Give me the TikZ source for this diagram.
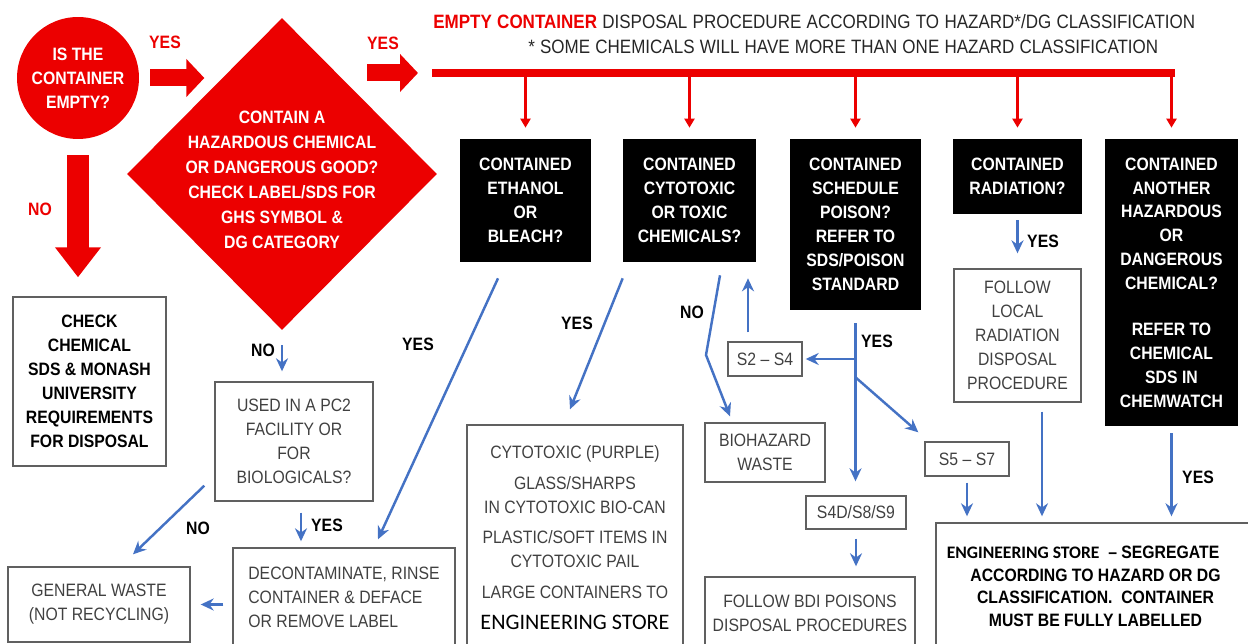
\documentclass[tikz,border=0pt]{standalone}
\usepackage{fontspec}
\setmainfont{Liberation Sans}[FakeStretch=0.88]
\newfontfamily\storefont{Carlito}
\usetikzlibrary{positioning, shapes.geometric, arrows.meta}
\definecolor{hazred}{RGB}{236,0,0}
\definecolor{flowblue}{RGB}{68,114,196}
\definecolor{boxgrey}{RGB}{96,96,96}
\definecolor{textgrey}{RGB}{64,64,64}
\tikzset{black box/.style={rectangle, fill=black, text=white, align=center, inner sep=2pt, font=\bfseries\fontsize{10.2}{13.6}\selectfont},
  grey box/.style={rectangle, draw=boxgrey, line width=0.8pt, text=textgrey, align=center, inner sep=2pt, font=\fontsize{10.2}{13.6}\selectfont},
  bold box/.style={grey box, text=black, font=\bfseries\fontsize{10.2}{13.6}\selectfont},
  red label/.style={text=hazred, font=\bfseries\fontsize{10.2}{12}\selectfont},
  flow label/.style={text=black, font=\bfseries\fontsize{10.2}{12}\selectfont},
  diamond text/.style={text=white, align=center, font=\bfseries\fontsize{10.2}{14.2}\selectfont},
  title text/.style={anchor=west, inner sep=0pt, text=black!85, font=\fontsize{11}{13}\selectfont},
  block arrow/.style={draw=hazred, line width=0.34cm, -{Triangle[length=0.36cm, width=0.74cm]}},
  red arrow/.style={draw=hazred, line width=1.6pt, -{Triangle[length=1.8mm, width=2mm]}},
  blue arrow/.style={draw=flowblue, line width=1.4pt, -{Stealth[length=2.6mm, width=2.4mm]}},}

\begin{document}
\begin{tikzpicture}[x=0.02cm, y=-0.02cm]
        \useasboundingbox (0,0) rectangle (1248,644);
        % Nodes
        \node[circle, fill=hazred, text=white, minimum size=2.44cm, inner sep=0pt, align=center, font=\bfseries\fontsize{10.2}{13.6}\selectfont] (empty) at (78,78) {IS THE\\CONTAINER\\EMPTY?};
        \node[diamond, fill=hazred, minimum width=6.2cm, minimum height=6.24cm, inner sep=0pt,
              label={[diamond text, yshift=-0.12cm]center:{CONTAIN A\\HAZARDOUS CHEMICAL\\OR DANGEROUS GOOD?\\CHECK LABEL/SDS FOR\\GHS SYMBOL \&\\DG CATEGORY}}] (hazard) at (282,174) {};
        \node[title text] (title) at (433,22)
              {\makebox[15.24cm][s]{\textcolor{hazred}{\bfseries EMPTY CONTAINER} DISPOSAL PROCEDURE ACCORDING TO HAZARD*/DG CLASSIFICATION}};
        \node[title text] (note) at (528,47)
              {\makebox[12.6cm][s]{* SOME CHEMICALS WILL HAVE MORE THAN ONE HAZARD CLASSIFICATION}};

        \node[black box, minimum width=2.62cm, minimum height=2.46cm] (ethanol) at (525.5,200.5) {CONTAINED\\ETHANOL\\OR\\BLEACH?};
        \node[black box, minimum width=2.66cm, minimum height=2.46cm] (cytotoxic) at (689.5,200.5) {CONTAINED\\CYTOTOXIC\\OR TOXIC\\CHEMICALS?};
        \node[black box, minimum width=2.62cm, minimum height=3.42cm] (poison) at (855.5,224.5) {CONTAINED\\SCHEDULE\\POISON?\\REFER TO\\SDS/POISON\\STANDARD};
        \node[black box, minimum width=2.58cm, minimum height=1.5cm] (radiation) at (1017.5,176.5) {CONTAINED\\RADIATION?};
        \node[black box, minimum width=2.66cm, minimum height=5.74cm] (another) at (1171.5,282.5) {CONTAINED\\ANOTHER\\HAZARDOUS\\OR\\DANGEROUS\\CHEMICAL?\\[0.44cm]REFER TO\\CHEMICAL\\SDS IN\\CHEMWATCH};

        \node[bold box, minimum width=3.06cm, minimum height=3.38cm] (check) at (89.5,381.5) {CHECK\\CHEMICAL\\SDS \& MONASH\\UNIVERSITY\\REQUIREMENTS\\FOR DISPOSAL};
        \node[grey box, minimum width=3.16cm, minimum height=2.38cm] (pc2) at (294,441.5) {USED IN A PC2\\FACILITY OR\\FOR\\BIOLOGICALS?};
        \node[grey box, align=left, minimum width=4.44cm, minimum height=1.96cm] (decon) at (344,597) {DECONTAMINATE, RINSE\\CONTAINER \& DEFACE\\OR REMOVE LABEL};
        \node[grey box, minimum width=3.64cm, minimum height=1.5cm] (general) at (99,604.5) {GENERAL WASTE\\(NOT RECYCLING)};
        \node[grey box, minimum width=4.32cm, minimum height=4.5cm] (cytobin) at (575,537.5) {CYTOTOXIC (PURPLE)\\[0.14cm]GLASS/SHARPS\\IN CYTOTOXIC BIO-CAN\\[0.14cm]PLASTIC/SOFT ITEMS IN\\CYTOTOXIC PAIL\\[0.14cm]LARGE CONTAINERS TO\\[0.14cm]{\storefont\fontsize{12.6}{15}\selectfont\color{black}ENGINEERING STORE}};
        \node[grey box, minimum width=2.4cm, minimum height=1.18cm] (biohazard) at (765,452.5) {BIOHAZARD\\WASTE};
        \node[grey box, minimum width=1.48cm, minimum height=0.68cm] (s2s4) at (765,359) {S2 -- S4};
        \node[grey box, minimum width=1.68cm, minimum height=0.68cm] (s5s7) at (967,459) {S5 -- S7};
        \node[grey box, minimum width=2.0cm, minimum height=0.66cm] (s4d) at (856,512.5) {S4D/S8/S9};
        \node[grey box, minimum width=4.2cm, minimum height=1.46cm] (bdi) at (810,613.5) {FOLLOW BDI POISONS\\DISPOSAL PROCEDURES};
        \node[grey box, minimum width=2.54cm, minimum height=2.66cm, below=1.08cm of radiation] (radproc) {FOLLOW\\LOCAL\\RADIATION\\DISPOSAL\\PROCEDURE};
        \node[bold box, minimum width=6.38cm, minimum height=2.54cm, font=\bfseries\fontsize{10.2}{12.8}\selectfont] (store) at (1095.5,586.5)
              {{\storefont\fontsize{10}{12}\selectfont ENGINEERING STORE}\ \ -- SEGREGATE\hspace*{0.5cm}\\ACCORDING TO HAZARD OR DG\\CLASSIFICATION.\ \ CONTAINER\\MUST BE FULLY LABELLED};

        % Labels
        \node[red label] (yesA) at (165,42) {YES};
        \node[red label] (yesB) at (383,43) {YES};
        \node[red label] (noA) at (40,209) {NO};
        \node[flow label] (noB) at (263,350) {NO};
        \node[flow label] (yesC) at (418,344) {YES};
        \node[flow label] (yesD) at (577,323) {YES};
        \node[flow label] (noC) at (692,312) {NO};
        \node[flow label] (yesE) at (877,341) {YES};
        \node[flow label] (yesF) at (1043,241) {YES};
        \node[flow label] (yesG) at (1198,477) {YES};
        \node[flow label] (yesH) at (327,525) {YES};
        \node[flow label] (noD) at (198,528) {NO};

        % Paths
        \coordinate (busL) at (432,73);
        \coordinate (busR) at ([xshift=0.06cm]busL -| another.north);
        \coordinate (fork) at ([yshift=-1.34cm]poison.south);
        \coordinate (nobend) at (706,355);
        \draw[block arrow] ([xshift=0.22cm]empty.east) -- (empty.east -| hazard.north west);
        \draw[block arrow] ([xshift=0.15cm]hazard.north east |- busL) -- ([xshift=-0.28cm]busL);
        \draw[block arrow, line width=0.44cm, -{Triangle[length=0.6cm, width=0.88cm]}] ([yshift=-0.32cm]empty.south) -- ([yshift=0.38cm]empty.south |- check.north);
        \draw[hazred, line width=0.16cm] (busL) -- (busR);
        \foreach \bx in {ethanol, cytotoxic, poison, radiation, another}
            \draw[red arrow] (busL -| \bx.north) -- ([yshift=0.22cm]\bx.north);

        \draw[blue arrow, shorten <=0.3cm, shorten >=0.2cm] (hazard.south) -- (hazard.south |- pc2.north);
        \draw[blue arrow, shorten <=0.22cm, shorten >=0.12cm] ([xshift=0.14cm]pc2.south) -- ([xshift=0.14cm]pc2.south |- decon.north);
        \draw[blue arrow] ([xshift=-0.2cm, yshift=0.32cm]pc2.south west) -- ([xshift=0.68cm, yshift=0.24cm]general.north);
        \draw[blue arrow, shorten <=0.18cm, shorten >=0.2cm] (decon.west |- general.east) -- (general.east);
        \draw[blue arrow] ([xshift=-0.55cm, yshift=-0.32cm]ethanol.south) -- ([xshift=0.68cm, yshift=0.16cm]decon.north);
        \draw[blue arrow] ([yshift=-0.32cm]cytotoxic.south west) -- ([xshift=-0.1cm, yshift=0.3cm]cytobin.north);
        \draw[blue arrow] ([xshift=0.61cm, yshift=-0.26cm]cytotoxic.south) -- (nobend) -- ([xshift=-0.7cm, yshift=0.12cm]biohazard.north);
        \draw[blue arrow, shorten <=0.18cm, shorten >=0.32cm] ([xshift=-0.34cm]s2s4.north) -- ([xshift=-0.34cm]s2s4.north |- cytotoxic.south);
        \draw[blue arrow, shorten <=0.26cm, shorten >=0.28cm] (poison.south) -- (poison.south |- s4d.north);
        \draw[blue arrow, shorten >=0.06cm] (poison.south |- s2s4.east) -- (s2s4.east);
        \draw[blue arrow] (fork) -- ([xshift=-0.12cm, yshift=0.18cm]s5s7.north west);
        \draw[blue arrow, shorten <=0.18cm, shorten >=0.2cm] (s4d.south) -- (s4d.south |- bdi.north);
        \draw[blue arrow, shorten <=0.12cm, shorten >=0.3cm] (radiation.south) -- (radiation.south |- radproc.north);
        \draw[blue arrow, shorten <=0.18cm, shorten >=0.12cm] ([xshift=0.49cm]radproc.south) -- ([xshift=0.49cm]radproc.south |- store.north);
        \draw[blue arrow, shorten <=0.12cm, shorten >=0.12cm] (s5s7.south) -- (s5s7.south |- store.north);
        \draw[blue arrow, shorten <=0.14cm, shorten >=0.12cm] (another.south) -- (another.south |- store.north);
    \end{tikzpicture}
\end{document}
